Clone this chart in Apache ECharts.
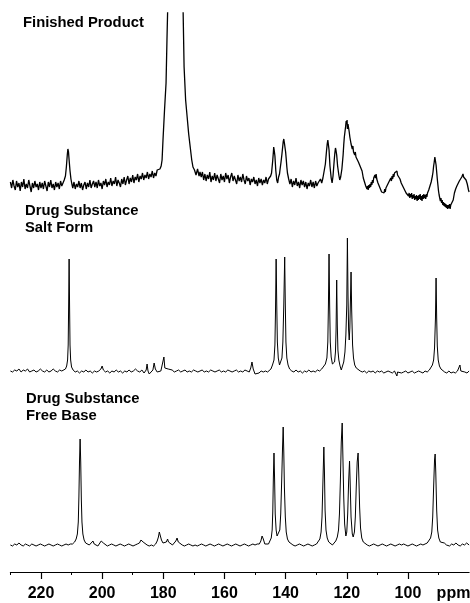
<!DOCTYPE html>
<html><head><meta charset="utf-8">
<script src="https://cdn.jsdelivr.net/npm/echarts@6/dist/echarts.min.js"></script>
<style>html,body{margin:0;padding:0;background:#fff}#c{width:470px;height:603px}</style>
</head><body><div id="c"></div>
<script>
const majorTicks = [220, 200, 180, 160, 140, 120, 100];
const minorTicks = [230, 210, 190, 170, 150, 130, 110, 90];
const unitLabel = 'ppm';
const unitPos = 85.1;
const titles = ['Finished Product', 'Drug Substance\nSalt Form', 'Drug Substance\nFree Base'];

// Finished Product: [ppm, intensity]
const finishedProduct = [
[230,18],[229.6,12],[229.2,20],[228.8,14],[228.4,10],[228,19],[227.6,13],[227.2,17],[226.8,9],[226.4,18],[226,13],[225.6,21],[225.2,11],[224.8,16],[224.4,12],[224,20],[223.6,14],[223.2,8],[222.8,17],[222.4,12],[222,19],[221.6,13],[221.2,16],[220.8,10],[220.4,18],[220,12],[219.6,17],[219.2,11],[218.8,19],[218.4,14],[218,9],[217.6,18],[217.2,13],[216.8,20],[216.4,12],[216,16],[215.6,10],[215.2,18],[214.8,13],[214.4,17],[214,11],[213.6,19],[213.2,14],[212.8,17],[212.4,20],
[212.0,24],[211.7,33],[211.4,45],[211.2,51],[211.0,48],[210.8,40],[210.5,29],[210.2,21],[209.9,16],
[209.6,12],[209.2,18],[208.8,11],[208.4,16],[208,13],[207.6,19],[207.2,12],[206.8,17],[206.4,10],[206,15],[205.6,18],[205.2,11],[204.8,17],[204.4,13],[204,20],[203.6,12],[203.2,16],[202.8,19],[202.4,13],[202,18],[201.6,12],[201.2,20],[200.8,14],[200.4,17],[200,11],[199.6,19],[199.2,15],[198.8,21],[198.4,13],[198,18],[197.6,15],[197.2,22],[196.8,14],[196.4,19],[196,16],[195.6,23],[195.2,14],[194.8,20],[194.4,17],[194,13],[193.6,21],[193.2,16],[192.8,23],[192.4,15],[192,20],[191.6,24],[191.2,16],[190.8,22],[190.4,18],[190,25],[189.6,17],[189.2,23],[188.8,20],[188.4,26],[188,18],[187.6,24],[187.2,21],[186.8,27],[186.4,20],[186,25],[185.6,22],[185.2,28],[184.8,21],[184.4,26],[184,23],[183.6,29],[183.2,22],[182.8,27],[182.4,24],[182,30],
[181.6,28],[181.1,31],[180.7,34],[180.4,40],[180.1,60],[179.6,90],[179.1,117],[178.8,160],[178.5,200],[177.5,330],[176,420],[174.5,350],[173.7,220],[173.2,133],[172.7,100],[172.2,83],[171.7,66],[171.2,53],[170.7,40],[170.3,33],[169.8,30],[169.3,25],[168.8,31],[168.3,24],[168.0,28],
[167.6,23],[167.2,28],[166.8,20],[166.4,26],[166,19],[165.6,25],[165.2,21],[164.8,28],[164.4,18],[164,24],[163.6,20],[163.2,27],[162.8,19],[162.4,25],[162,21],[161.6,17],[161.2,26],[160.8,20],[160.4,24],[160,18],[159.6,27],[159.2,21],[158.8,25],[158.4,17],[158,23],[157.6,27],[157.2,19],[156.8,24],[156.4,20],[156,16],[155.6,25],[155.2,19],[154.8,23],[154.4,18],[154,26],[153.6,20],[153.2,16],[152.8,24],[152.4,19],[152,22],[151.6,15],[151.2,21],[150.8,18],[150.4,23],[150,16],[149.6,20],[149.2,14],[148.8,22],[148.4,17],[148,21],[147.6,15],[147.2,20],[146.8,17],[146.4,23],[146,16],[145.6,21],[145.2,19],[144.9,24],
[144.6,27],[144.2,40],[144.0,48],[143.9,53],[143.7,49],[143.5,44],[143.2,29],[142.9,20],[142.6,17],[142.3,23],[142.0,26],[141.8,31],[141.5,38],[141.2,46],[141.0,52],[140.8,58],[140.6,61],[140.4,57],[140.2,55],[140.0,48],[139.8,41],[139.6,33],[139.4,27],[139.0,21],
[138.6,16],[138.2,21],[137.8,13],[137.4,19],[137,15],[136.6,22],[136.2,14],[135.8,18],[135.4,12],[135,20],[134.6,15],[134.2,19],[133.8,13],[133.4,18],[133,11],[132.6,17],[132.2,14],[131.8,20],[131.4,13],[131,18],[130.6,12],[130.2,19],[129.8,14],[129.4,17],[129,15],[128.6,21],[128.2,17],[127.8,22],
[127.4,24],[127.0,36],[126.6,50],[126.4,56],[126.2,60],[126.0,55],[125.8,50],[125.5,34],[125.1,22],[124.8,17],[124.5,24],[124.1,40],[123.9,47],[123.7,52],[123.5,49],[123.3,45],[123.0,34],[122.6,25],[122.3,20],[122.0,23],[121.8,27],[121.6,31],[121.4,38],[121.2,45],[121.0,55],[120.8,63],[120.6,68],[120.4,73],[120.2,79],[120.1,76],[119.9,80],
[119.8,71],[119.6,76],[119.4,72],[119.2,68],[119.0,63],[118.8,61],[118.6,56],[118.4,58],[118.2,51],[118.0,54],[117.8,48],[117.6,50],[117.4,45],[117.2,48],[117.0,43],[116.8,45],[116.6,41],[116.4,43],[116.2,38],[116.0,40],[115.8,35],[115.6,37],[115.4,32],[115.2,33],[115.0,29],[114.8,27],[114.6,22],[114.4,23],[114.2,18],[114.0,19],[113.8,14],[113.6,16],[113.4,11],[113.2,14],[113.0,10],[112.8,15],[112.6,12],[112.4,16],[112.2,13],[112.0,18],[111.8,15],[111.6,20],[111.4,17],[111.2,22],[111.0,20],[110.8,25],[110.6,22],[110.4,26],[110.2,21],[110.0,22],[109.8,17],[109.6,19],[109.4,14],[109.2,16],[109.0,12],[108.8,13],[108.6,8],[108.4,10],[108.2,6],[108.0,9],[107.8,7],[107.6,11],[107.4,8],[107.2,12],[107.0,10],[106.8,14],[106.6,12],[106.4,17],[106.2,15],[106.0,19],[105.8,17],[105.6,22],[105.4,19],[105.2,24],[105.0,21],[104.8,26],[104.6,23],[104.4,27],[104.2,25],[104.0,29],[103.8,26],[103.6,29],[103.4,25],[103.2,27],[103.0,23],[102.8,25],[102.6,21],[102.4,22],[102.2,17],[102.0,19],[101.8,15],[101.6,16],[101.4,12],[101.2,14],[101.0,10],[100.8,12],[100.6,7],[100.4,9],[100.2,5],[100.0,8],[99.8,4],[99.6,7],[99.4,2],[99.2,6],[99.0,3],[98.8,7],[98.6,1],[98.4,5],[98.2,2],[98.0,6],[97.8,0],[97.6,4],[97.4,1],[97.2,5],[97.0,-1],[96.8,4],[96.6,0],[96.4,5],[96.2,1],[96.0,6],[95.8,0],[95.6,4],[95.4,-1],[95.2,5],[95.0,1],[94.8,6],[94.6,2],[94.4,5],[94.2,1],[94.0,6],[93.8,3],[93.6,7],[93.4,5],[93.2,10],[93.0,9],[92.8,14],[92.6,13],[92.4,18],[92.2,19],[92.0,24],[91.8,28],[91.6,34],[91.4,38],[91.2,43],[91.0,41],[90.8,35],[90.6,28],[90.4,21],[90.2,15],[90.0,9],[89.8,5],[89.6,2],[89.4,-1],[89.2,2],[89.0,-3],[88.8,0],[88.6,-5],[88.4,-2],[88.2,-6],[88.0,-3],[87.8,-7],[87.6,-4],[87.4,-8],[87.2,-5],[87.0,-9],[86.8,-5],[86.6,-8],[86.4,-4],[86.2,-9],[86.0,-5],[85.8,-7],[85.6,-3],[85.4,-5],[85.2,0],[85.0,2],[84.8,7],[84.6,6],[84.4,11],[84.2,10],[84.0,14],[83.8,12],[83.6,16],[83.4,15],[83.2,19],[83.0,17],[82.8,21],[82.6,19],[82.4,23],[82.2,21],[82.0,26],[81.8,23],[81.6,25],[81.4,21],[81.2,24],[81.0,20],[80.8,22],[80.6,16],[80.4,15],[80.2,10],[80.0,8]
];

// Drug Substance, Salt Form
const saltForm = [
[230,19],[229.3,18],[228.6,20],[227.9,19],[227.2,21],[226.5,18],[225.8,20],[225.1,19],[224.4,21],[223.7,18],[223,19],[222.3,20],[221.6,18],[220.9,19],[220.2,21],[219.5,19],[218.8,18],[218.1,20],[217.4,18],[216.7,19],[216,21],[215.3,19],[214.6,18],[213.9,20],[213.2,19],[212.6,20],
[212.0,21],[211.6,24],[211.3,30],[211.1,45],[210.95,85],[210.8,131],[210.65,85],[210.5,45],[210.3,30],[210.0,23],[209.5,20],
[208.8,18],[208.1,19],[207.4,17],[206.7,19],[206,18],[205.3,20],[204.6,18],[203.9,19],[203.2,17],[202.5,19],[201.8,18],[201.1,19],[200.4,21],[200.0,24],[199.6,20],[198.9,18],[198.2,19],[197.5,17],[196.8,19],[196.1,18],[195.4,20],[194.7,18],[194,19],[193.3,17],[192.6,19],[191.9,18],[191.2,20],[190.5,18],[189.8,19],[189.1,21],[188.4,19],[187.7,18],[187.0,20],[186.3,17],[185.6,20],[185.3,26],[185.0,19],[184.6,16],[184.0,18],[183.4,20],[183.0,27],[182.6,21],[182.0,18],[181.4,17],[180.8,19],[180.2,20],[179.8,33],[179.5,22],[179.0,20],[178.4,21],[177.8,19],[177.1,20],[176.4,18],[175.7,19],[175,20],[174.3,18],[173.6,19],[172.9,20],[172.2,18],[171.5,19],[170.8,18],[170.1,20],[169.4,19],[168.7,18],[168,19],[167.3,20],[166.6,18],[165.9,19],[165.2,18],[164.5,20],[163.8,19],[163.1,18],[162.4,19],[161.7,20],[161,18],[160.3,19],[159.6,18],[158.9,20],[158.2,19],[157.5,18],[156.8,19],[156.1,20],[155.4,18],[154.7,19],[154,18],[153.3,20],[152.6,19],[151.9,18],[151.4,22],[151.0,28],[150.6,21],[150.0,16],[149.4,18],[148.7,17],[148.0,19],[147.3,18],[146.6,19],[145.9,18],[145.3,20],[144.8,21],[144.3,25],
[143.8,30],[143.5,45],[143.3,80],[143.1,131],[142.9,85],[142.7,48],[142.4,32],[142.0,25],[141.6,26],[141.2,32],[140.9,48],[140.6,85],[140.3,133],[140.1,85],[139.9,48],[139.6,32],[139.2,25],[138.7,21],
[138.0,19],[137.3,18],[136.6,20],[135.9,18],[135.2,19],[134.5,17],[133.8,19],[133.1,18],[132.4,20],[131.7,18],[131.0,19],[130.3,18],[129.6,20],[128.9,19],[128.2,21],[127.6,22],[127.0,26],
[126.5,32],[126.2,48],[126.0,85],[125.8,136],[125.6,85],[125.4,48],[125.1,33],[124.7,26],[124.3,24],[124.0,28],[123.7,38],[123.5,60],[123.3,110],[123.1,65],[122.9,40],[122.6,30],[122.2,24],[121.8,20],[121.4,22],[121.0,28],[120.6,38],[120.3,55],[120.0,85],[119.8,152],[119.6,95],[119.4,60],[119.2,50],[119.0,62],[118.8,90],[118.6,118],[118.4,80],[118.1,45],[117.8,32],[117.4,25],[116.9,22],[116.3,20],
[115.6,19],[114.9,18],[114.2,19],[113.5,17],[112.8,19],[112.1,18],[111.4,19],[110.7,17],[110.0,19],[109.3,18],[108.6,19],[107.9,17],[107.2,18],[106.5,19],[105.8,18],[105.1,17],[104.4,19],[103.8,18],[103.6,14],[103.4,18],[102.8,19],[102.1,17],[101.4,18],[100.7,19],[100.0,17],[99.3,18],[98.6,19],[97.9,17],[97.2,18],[96.5,19],[95.8,18],[95.1,17],[94.4,19],[93.7,18],[93.0,20],[92.4,22],[92.0,25],[91.6,30],[91.3,42],[91.0,72],[90.8,112],[90.6,72],[90.4,44],[90.1,30],[89.7,24],[89.2,21],[88.7,19],[88.0,18],[87.3,17],[86.6,19],[85.9,17],[85.2,18],[84.5,17],[83.8,19],[83.3,21],[83.0,25],[82.7,19],[82.1,17],[81.4,18],[80.7,17],[80.0,19]
];

// Drug Substance, Free Base
const freeBase = [
[230,27],[229.3,26],[228.6,28],[227.9,27],[227.2,29],[226.5,27],[225.8,26],[225.1,28],[224.4,27],[223.7,26],[223,28],[222.3,27],[221.6,26],[220.9,27],[220.2,28],[219.5,27],[218.8,26],[218.1,27],[217.4,28],[216.7,27],[216,26],[215.3,27],[214.6,28],[213.9,27],[213.2,26],[212.5,27],[211.8,28],[211.1,27],[210.4,28],[209.7,28],[209.0,30],[208.5,33],
[208.1,38],[207.8,50],[207.6,75],[207.4,110],[207.2,133],[207.0,110],[206.8,72],[206.6,50],[206.3,38],[205.9,32],[205.4,29],[204.8,28],[204.2,27],[203.6,28],[203.0,31],[202.6,28],[202.0,27],[201.4,26],[200.8,28],[200.3,31],[200.0,33],[199.6,29],[199.0,27],[198.3,26],[197.6,27],[196.9,28],[196.2,27],[195.5,26],[194.8,27],[194.1,28],[193.4,27],[192.7,26],[192.0,27],[191.3,28],[190.6,27],[189.9,26],[189.2,27],[188.5,28],[187.8,29],[187.3,32],[187.0,34],[186.6,30],[186.0,28],[185.3,27],[184.6,26],[183.9,27],[183.2,26],[182.5,28],[182.0,31],[181.6,35],[181.3,40],[181.0,38],[180.6,32],[180.1,29],[179.5,28],[179.0,30],[178.6,33],[178.3,30],[177.7,28],[177.0,27],[176.4,28],[175.9,31],[175.5,34],[175.1,30],[174.5,28],[173.8,27],[173.1,26],[172.4,27],[171.7,28],[171.0,27],[170.3,26],[169.6,27],[168.9,26],[168.2,27],[167.5,28],[166.8,27],[166.1,26],[165.4,27],[164.7,28],[164.0,27],[163.3,26],[162.6,27],[161.9,28],[161.2,27],[160.5,26],[159.8,27],[159.1,28],[158.4,27],[157.7,26],[157.0,27],[156.3,28],[155.6,27],[154.9,26],[154.2,27],[153.5,28],[152.8,27],[152.1,26],[151.4,27],[150.7,28],[150.0,27],[149.3,28],[148.6,28],[148.1,31],[147.7,36],[147.3,33],[146.8,28],[146.2,27],[145.6,28],[145.1,30],
[144.7,34],[144.4,42],[144.2,60],[144.0,95],[143.8,119],[143.6,92],[143.4,58],[143.1,42],[142.8,36],[142.5,34],[142.2,36],[141.9,42],[141.6,58],[141.3,90],[141.0,125],[140.8,145],[140.6,120],[140.4,85],[140.1,55],[139.8,40],[139.4,33],[138.9,30],[138.3,28],[137.6,27],[136.9,26],[136.2,27],[135.5,28],[134.8,27],[134.1,26],[133.4,27],[132.7,28],[132.0,27],[131.3,26],[130.6,27],[129.9,28],[129.3,30],[128.8,33],[128.4,40],[128.1,55],[127.8,90],[127.5,125],[127.3,100],[127.1,62],[126.8,42],[126.4,34],[125.9,30],[125.3,28],[124.7,27],[124.1,29],[123.6,31],[123.1,35],[122.7,42],[122.4,58],[122.1,90],[121.8,130],[121.5,149],[121.3,120],[121.0,75],[120.7,48],[120.3,36],[120.0,40],[119.7,58],[119.4,90],[119.1,111],[118.9,90],[118.6,55],[118.2,38],[117.9,35],[117.5,40],[117.2,55],[116.9,85],[116.6,110],[116.3,119],[116.1,100],[115.8,65],[115.5,44],[115.1,34],[114.6,30],[114.0,28],
[113.3,27],[112.6,26],[111.9,27],[111.2,28],[110.5,27],[109.8,26],[109.1,27],[108.4,28],[107.7,27],[107.0,26],[106.3,27],[105.6,28],[104.9,27],[104.2,26],[103.5,27],[102.8,28],[102.1,27],[101.4,28],[100.7,27],[100.0,26],[99.3,27],[98.6,28],[97.9,27],[97.2,26],[96.5,27],[95.8,28],[95.1,27],[94.4,28],[93.7,29],[93.1,31],[92.6,34],[92.2,40],[91.9,55],[91.6,85],[91.3,112],[91.1,118],[90.9,100],[90.6,62],[90.3,42],[89.9,34],[89.4,30],[88.8,28],[88.1,29],[87.4,27],[86.9,29],[86.4,26],[85.7,28],[85.0,27],[84.3,29],[83.6,27],[82.9,26],[82.2,28],[81.5,27],[80.8,29],[80.0,27]
];

const spectra = [finishedProduct, saltForm, freeBase];
const FONT = '"Liberation Sans", Arial, Helvetica, sans-serif';

const gridDefs = [
  {top: 13, height: 202, ymin: -15, ymax: 187},
  {top: 220, height: 170, ymin: 0, ymax: 170},
  {top: 411, height: 161, ymin: 0, ymax: 161}
];

const chart = echarts.init(document.getElementById('c'), null, {renderer: 'canvas'});

const xAxes = gridDefs.map((g, i) => ({
  type: 'value', gridIndex: i, min: 80, max: 230, inverse: true,
  show: i === 2,
  splitLine: {show: false},
  axisLine: {show: true, lineStyle: {color: '#000', width: 1.2}},
  axisTick: {show: true, customValues: majorTicks, length: 7, lineStyle: {color: '#000', width: 1.2}},
  axisLabel: {
    show: true, customValues: majorTicks.concat([unitPos]), margin: 14, hideOverlap: false,
    color: '#000', fontFamily: FONT, fontWeight: 'bold', fontSize: 16,
    formatter: v => (Math.abs(v - unitPos) < 0.01 ? unitLabel : String(v))
  }
}));
xAxes.push({
  type: 'value', gridIndex: 2, min: 80, max: 230, inverse: true, position: 'bottom',
  splitLine: {show: false},
  axisLine: {show: false},
  axisTick: {show: true, customValues: minorTicks, length: 3, lineStyle: {color: '#000', width: 1}},
  axisLabel: {show: false}
});

const option = {
  animation: false,
  backgroundColor: '#fff',
  title: [
    {text: titles[0], left: 23, top: 14.5},
    {text: titles[1], left: 25, top: 202.5},
    {text: titles[2], left: 26, top: 390}
  ].map(t => Object.assign(t, {padding: 0, textStyle: {fontFamily: FONT, fontWeight: 'bold', fontSize: 14.8, lineHeight: 17, color: '#000'}})),
  grid: gridDefs.map(g => ({left: 10.4, right: 0.9, top: g.top, height: g.height, containLabel: false, outerBoundsMode: 'none'})),
  xAxis: xAxes,
  yAxis: gridDefs.map((g, i) => ({type: 'value', gridIndex: i, min: g.ymin, max: g.ymax, show: false, splitLine: {show: false}})),
  series: spectra.map((d, i) => ({
    type: 'line', xAxisIndex: i, yAxisIndex: i, data: d,
    showSymbol: false, symbol: 'none', clip: true,
    lineStyle: {color: '#000', width: i === 0 ? 1.3 : 1}
  }))
};
chart.setOption(option);
</script>
</body></html>
